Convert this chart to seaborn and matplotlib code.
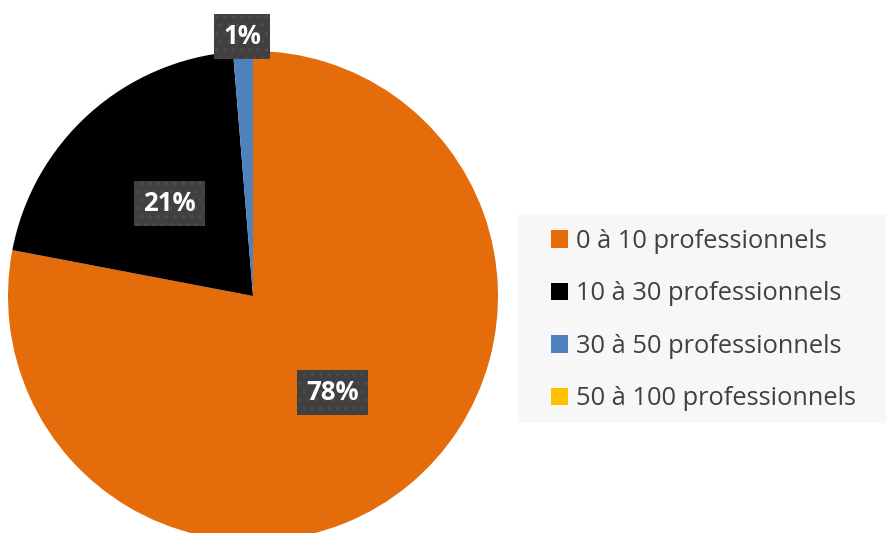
import numpy as np
import matplotlib
matplotlib.use("Agg")
import matplotlib.pyplot as plt
from matplotlib.patches import Rectangle
import seaborn as sns

# tranches de taille (nombre de professionnels)
categories = ["0 à 10 professionnels", "10 à 30 professionnels",
              "30 à 50 professionnels", "50 à 100 professionnels"]
shares = [78.0, 20.7, 1.3, 0.0]
colors = ["#E46C0A", "#000000", "#4F81BD", "#FFC000"]

sns.set_theme(style="white")
plt.rcParams["font.family"] = ["Open Sans", "DejaVu Sans"]

fig = plt.figure(figsize=(8.87, 5.33), dpi=100)
# pie centre ~ (253, 296) px, radius ~ 245 px
cx, cy, r = 253, 296, 245
W, H = 887, 533
ax = fig.add_axes([(cx - r) / W, (H - cy - r) / H, 2 * r / W, 2 * r / H])

wedges, texts, autotexts = ax.pie(
    shares, colors=colors, startangle=90, counterclock=False,
    autopct=lambda p: f"{p:.0f}%" if p > 0.5 else "",
    pctdistance=0.51, radius=1.0,
    wedgeprops=dict(linewidth=0),
    textprops=dict(color="white", fontsize=18.5, fontweight="bold"))

# small slice label sits outside the pie
for w, t in zip(wedges, autotexts):
    span = abs(w.theta2 - w.theta1)
    if 0 < span < 10:
        mid = np.deg2rad((w.theta1 + w.theta2) / 2)
        t.set_position((1.06 * np.cos(mid), 1.06 * np.sin(mid)))
    t.set_bbox(dict(boxstyle="square,pad=0.35", facecolor="#404040",
                    edgecolor="#4d4d4d", hatch="..", linewidth=0))

ax.set_xlim(-1, 1)
ax.set_ylim(-1, 1)
ax.set_aspect("equal")
ax.axis("off")

# legend background panel
fig.patches.append(Rectangle((518 / W, 1 - 423 / H), (W - 518) / W, 209 / H,
                             transform=fig.transFigure, facecolor="#f7f7f7",
                             edgecolor="none", zorder=0))

leg = fig.legend(wedges, categories, loc="upper left",
                 bbox_to_anchor=(551 / W, 1 - 229 / H),
                 frameon=False, fontsize=18.3,
                 handlelength=0.68, handleheight=0.68, handletextpad=0.3,
                 labelspacing=1.08, borderpad=0, borderaxespad=0)
for t in leg.get_texts():
    t.set_color("#404040")

fig.savefig("out.png", dpi=100, facecolor="white")
